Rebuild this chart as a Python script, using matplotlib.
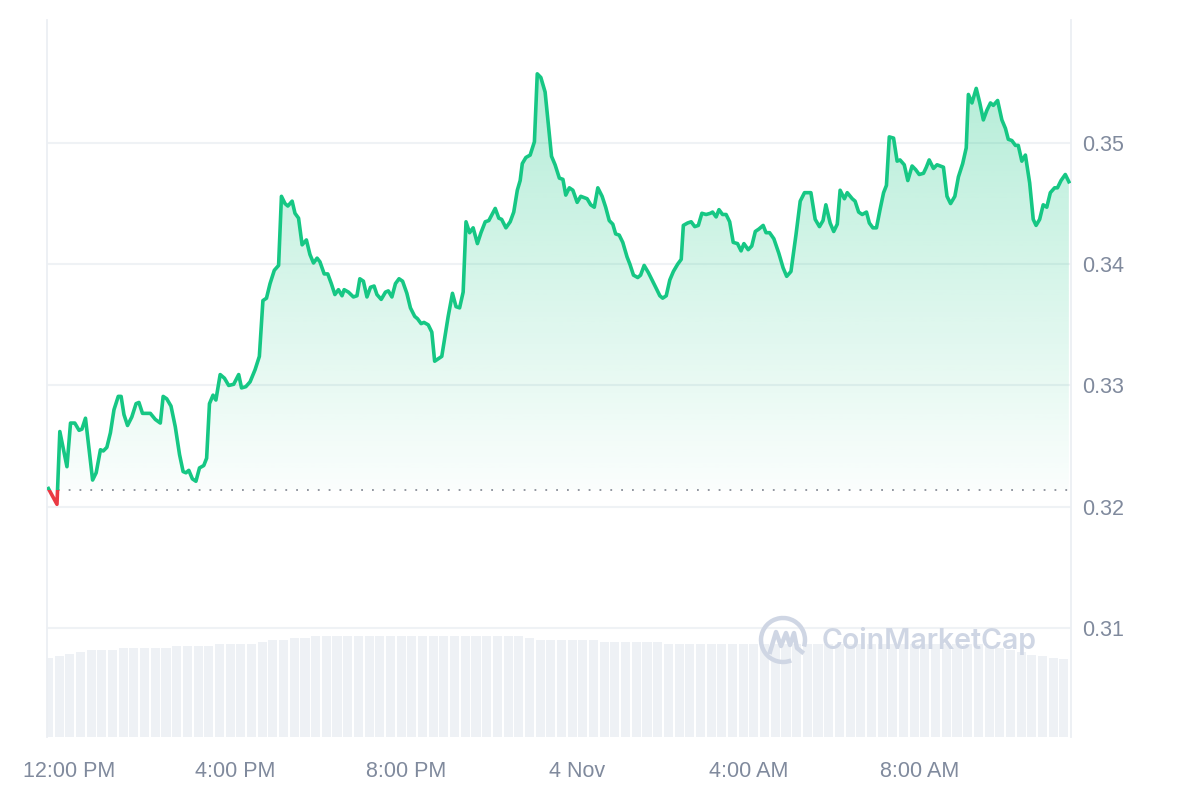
import numpy as np
import matplotlib
matplotlib.use('Agg')
from matplotlib import pyplot as plt
from matplotlib import transforms
from matplotlib.patches import Rectangle, Arc
from matplotlib.path import Path

plt.rcParams['font.family'] = ['Liberation Sans', 'DejaVu Sans']

# 分钟数: 相对 11月3日 12:00 PM
minutes = [-22, -10, -6, 4, 9, 15, 21, 25, 30, 40, 45, 51, 55, 60, 65, 70, 76, 80, 84, 89,
           95, 101, 105, 110, 116, 121, 128, 135, 139, 144, 150, 156, 162, 167, 171, 175, 180, 185, 190, 196,
           200, 204, 209, 213, 219, 225, 231, 238, 245, 249, 255, 261, 268, 274, 279, 284, 289, 295, 301, 305,
           310, 314, 320, 324, 329, 334, 340, 345, 350, 355, 359, 365, 370, 375, 380, 385, 390, 393, 399, 406,
           411, 415, 420, 425, 430, 435, 439, 445, 451, 455, 460, 465, 470, 475, 481, 486, 492, 496, 501, 505,
           511, 516, 520, 525, 530, 539, 545, 550, 555, 560, 564, 569, 574, 580, 585, 591, 596, 605, 610, 614,
           620, 626, 631, 636, 640, 643, 648, 654, 660, 664, 669, 675, 680, 684, 689, 695, 700, 704, 709, 714,
           720, 725, 734, 739, 744, 749, 755, 760, 765, 770, 774, 779, 784, 790, 794, 799, 805, 809, 814, 820,
           826, 831, 836, 840, 845, 850, 855, 861, 866, 869, 875, 880, 885, 890, 895, 901, 907, 910, 915, 919,
           924, 929, 934, 939, 945, 950, 954, 960, 965, 970, 975, 981, 985, 990, 996, 1003, 1009, 1014, 1020, 1027,
           1033, 1039, 1048, 1054, 1060, 1065, 1069, 1075, 1080, 1085, 1089, 1095, 1099, 1106, 1110, 1115, 1120, 1126, 1130, 1135,
           1140, 1145, 1150, 1154, 1158, 1164, 1169, 1173, 1179, 1184, 1190, 1195, 1200, 1206, 1210, 1214, 1220, 1225, 1234, 1239,
           1244, 1250, 1255, 1261, 1266, 1269, 1274, 1280, 1285, 1290, 1295, 1300, 1304, 1310, 1316, 1321, 1325, 1330, 1335, 1339,
           1344, 1349, 1355, 1360, 1364, 1369, 1374, 1379, 1384, 1390, 1394, 1399, 1405, 1410]
prices = [0.3215, 0.3202, 0.3262, 0.3233, 0.3269, 0.3269, 0.3263, 0.3264, 0.3273, 0.3222,
          0.3228, 0.3247, 0.3246, 0.3249, 0.3261, 0.3280, 0.3291, 0.3291, 0.3276, 0.3267,
          0.3274, 0.3285, 0.3286, 0.3277, 0.3277, 0.3277, 0.3272, 0.3269, 0.3291, 0.3289,
          0.3283, 0.3266, 0.3243, 0.3229, 0.3228, 0.3230, 0.3223, 0.3221, 0.3232, 0.3234,
          0.3240, 0.3285, 0.3292, 0.3288, 0.3309, 0.3306, 0.3300, 0.3301, 0.3309, 0.3298,
          0.3299, 0.3303, 0.3313, 0.3324, 0.3370, 0.3372, 0.3384, 0.3395, 0.3399, 0.3456,
          0.3450, 0.3448, 0.3452, 0.3442, 0.3438, 0.3416, 0.3420, 0.3408, 0.3401, 0.3405,
          0.3402, 0.3392, 0.3392, 0.3384, 0.3375, 0.3379, 0.3374, 0.3379, 0.3377, 0.3373,
          0.3374, 0.3388, 0.3386, 0.3373, 0.3381, 0.3382, 0.3375, 0.3371, 0.3377, 0.3378,
          0.3373, 0.3384, 0.3388, 0.3386, 0.3376, 0.3364, 0.3357, 0.3355, 0.3351, 0.3352,
          0.3350, 0.3344, 0.3320, 0.3322, 0.3324, 0.3357, 0.3376, 0.3365, 0.3364, 0.3377,
          0.3435, 0.3426, 0.3430, 0.3417, 0.3426, 0.3435, 0.3436, 0.3446, 0.3438, 0.3437,
          0.3430, 0.3435, 0.3443, 0.3461, 0.3469, 0.3483, 0.3488, 0.3490, 0.3501, 0.3557,
          0.3554, 0.3542, 0.3513, 0.3489, 0.3482, 0.3471, 0.3470, 0.3457, 0.3463, 0.3461,
          0.3451, 0.3456, 0.3454, 0.3449, 0.3447, 0.3463, 0.3456, 0.3447, 0.3436, 0.3433,
          0.3425, 0.3424, 0.3418, 0.3406, 0.3400, 0.3391, 0.3389, 0.3391, 0.3399, 0.3393,
          0.3386, 0.3380, 0.3374, 0.3372, 0.3374, 0.3387, 0.3394, 0.3400, 0.3404, 0.3432,
          0.3434, 0.3435, 0.3431, 0.3432, 0.3442, 0.3441, 0.3442, 0.3443, 0.3439, 0.3445,
          0.3441, 0.3441, 0.3435, 0.3418, 0.3417, 0.3411, 0.3417, 0.3412, 0.3415, 0.3427,
          0.3429, 0.3432, 0.3426, 0.3426, 0.3421, 0.3409, 0.3397, 0.3390, 0.3394, 0.3424,
          0.3452, 0.3459, 0.3459, 0.3437, 0.3431, 0.3436, 0.3449, 0.3434, 0.3427, 0.3433,
          0.3461, 0.3454, 0.3459, 0.3454, 0.3452, 0.3443, 0.3441, 0.3443, 0.3434, 0.3430,
          0.3430, 0.3445, 0.3459, 0.3465, 0.3505, 0.3504, 0.3485, 0.3486, 0.3482, 0.3469,
          0.3481, 0.3478, 0.3474, 0.3475, 0.3480, 0.3486, 0.3479, 0.3482, 0.3480, 0.3456,
          0.3450, 0.3456, 0.3472, 0.3483, 0.3496, 0.3540, 0.3533, 0.3545, 0.3533, 0.3519,
          0.3527, 0.3533, 0.3531, 0.3535, 0.3519, 0.3512, 0.3503, 0.3502, 0.3498, 0.3498,
          0.3485, 0.3490, 0.3467, 0.3437, 0.3432, 0.3437, 0.3449, 0.3447, 0.3459, 0.3463,
          0.3463, 0.3469, 0.3474, 0.3468]
baseline = 0.3214  # 24小时前的价格 (虚线)

# 成交量 (每15分钟一根, 单位: 百万)
vol_start = -22
vol_step = 15
volumes = [7.9, 8.1, 8.3, 8.5, 8.7, 8.7, 8.7, 8.9, 8.9, 8.9, 8.9, 8.9, 9.1, 9.1, 9.1, 9.1,
           9.3, 9.3, 9.3, 9.3, 9.47, 9.67, 9.67, 9.87, 9.87,
           10.07, 10.07, 10.07, 10.07, 10.07, 10.07, 10.07, 10.07, 10.07, 10.07,
           10.07, 10.07, 10.07, 10.07, 10.07, 10.07, 10.07, 10.07, 10.07, 10.07,
           9.87, 9.7, 9.67, 9.67, 9.67, 9.67, 9.67,
           9.47, 9.47, 9.47, 9.47, 9.47, 9.47,
           9.27, 9.27, 9.27, 9.27, 9.27, 9.27, 9.27, 9.27, 9.27, 9.27,
           9.27, 9.27, 9.27, 9.27, 9.27, 9.27, 9.27, 9.27, 9.27, 9.27,
           9.27, 9.27, 9.27, 9.27, 9.27, 9.27, 9.27, 9.27, 9.27, 9.27,
           9.0, 8.9, 8.7, 8.5, 8.2, 8.1, 7.9, 7.8]

xtick_pos = [0, 240, 480, 720, 960, 1200]
xtick_labels = ['12:00 PM', '4:00 PM', '8:00 PM', '4 Nov', '4:00 AM', '8:00 AM']
ytick_pos = [0.31, 0.32, 0.33, 0.34, 0.35]
ytick_labels = ['0.31', '0.32', '0.33', '0.34', '0.35']

green = '#16c784'
red = '#ea3943'
label_color = '#808a9d'
grid_color = '#eff2f5'

fig = plt.figure(figsize=(12, 8), dpi=100)
pos = [47 / 1200, 63 / 800, 1024 / 1200, 717 / 800]
x_min, x_max = -24, 1413
y_min, y_max = 0.30101, 0.36014

# 成交量柱子
ax_vol = fig.add_axes(pos)
vol_x = [vol_start + vol_step * i for i in range(len(volumes))]
ax_vol.bar(vol_x, volumes, width=vol_step * 0.85, color='#eef1f5', align='center')
ax_vol.set_xlim(x_min, x_max)
ax_vol.set_ylim(0, 71.7)
ax_vol.axis('off')

# 价格
ax = fig.add_axes(pos)
ax.patch.set_visible(False)
ax.set_xlim(x_min, x_max)
ax.set_ylim(y_min, y_max)

for yv in ytick_pos:
    ax.axhline(yv, color=grid_color, lw=1.5, zorder=0)

# 渐变填充
m = np.array(minutes)
p = np.array(prices)
verts = [(m[0], baseline)] + list(zip(m, p)) + [(m[-1], baseline), (m[0], baseline)]
clip = Path(verts)
alpha = np.linspace(0.36, 0.02, 256)
grad = np.zeros((256, 1, 4))
grad[:, 0, :3] = matplotlib.colors.to_rgb(green)
grad[:, 0, 3] = alpha
im = ax.imshow(grad, extent=[x_min, x_max, baseline, y_max], aspect='auto',
               origin='upper', zorder=1)
im.set_clip_path(clip, ax.transData)
ax.set_xlim(x_min, x_max)
ax.set_ylim(y_min, y_max)

ax.axhline(baseline, color='#8a8f99', lw=1.3, linestyle=(0, (1, 5)), zorder=2)

line_g, = ax.plot(m, p, color=green, lw=2.6, zorder=3, solid_joinstyle='round')
line_g.set_clip_path(Rectangle((x_min, baseline), x_max - x_min, y_max - baseline,
                               transform=ax.transData))
line_r, = ax.plot(m, p, color=red, lw=2.6, zorder=3, solid_joinstyle='round')
line_r.set_clip_path(Rectangle((x_min, y_min), x_max - x_min, baseline - y_min,
                               transform=ax.transData))

ax.yaxis.tick_right()
ax.set_yticks(ytick_pos, ytick_labels)
ax.set_xticks(xtick_pos, xtick_labels)
ax.tick_params(axis='both', length=0, labelsize=15.5, labelcolor=label_color)
ax.tick_params(axis='y', pad=8)
ax.tick_params(axis='x', pad=17)
# 第一个标签稍微右移
first = ax.get_xticklabels()[0]
first.set_transform(first.get_transform() + transforms.ScaledTranslation(5 / 100, 0, fig.dpi_scale_trans))
for s in ['top', 'bottom']:
    ax.spines[s].set_visible(False)
for s in ['left', 'right']:
    ax.spines[s].set_color('#eceff3')
    ax.spines[s].set_linewidth(1.3)

# 水印
wm = '#cfd6e4'
fig.text(822 / 1200, 1 - 641 / 800, 'CoinMarketCap', fontsize=20.5, fontweight='semibold',
         family=['Inter', 'DejaVu Sans'], color=wm, va='center', ha='left')
fig.patches.append(Arc((783 / 1200, 1 - 640 / 800), 44 / 1200, 44 / 800, theta1=-25, theta2=285,
                       transform=fig.transFigure, color=wm, lw=3.2))
logo_x = np.array([770, 776, 781, 786, 790, 794, 797, 802]) / 1200
logo_y = 1 - np.array([652, 632, 646, 633, 645, 633, 648, 652]) / 800
fig.lines.append(matplotlib.lines.Line2D(logo_x, logo_y, transform=fig.transFigure,
                                         color=wm, lw=3.2, solid_joinstyle='round'))

plt.savefig('out.png', dpi=100)
